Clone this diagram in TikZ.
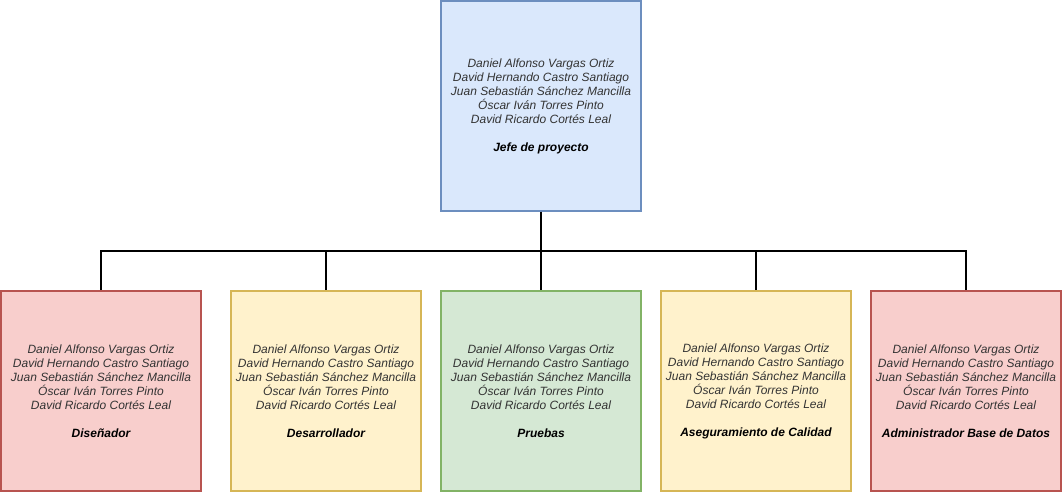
\documentclass[tikz,border=0pt]{standalone}
\usepackage{fontspec}
\setmainfont{Liberation Sans}
\usepackage{tikz}
\usetikzlibrary{positioning, calc}

\definecolor{azulF}{HTML}{DAE8FC}\definecolor{azulB}{HTML}{6C8EBF}
\definecolor{rojoF}{HTML}{F8CECC}\definecolor{rojoB}{HTML}{B85450}
\definecolor{amarF}{HTML}{FFF2CC}\definecolor{amarB}{HTML}{D6B656}
\definecolor{verdeF}{HTML}{D5E8D4}\definecolor{verdeB}{HTML}{82B366}
\definecolor{nombres}{HTML}{333333}

\newcommand{\integrantes}{Daniel Alfonso Vargas Ortiz\\David Hernando Castro Santiago\\Juan Sebastián Sánchez Mancilla\\Óscar Iván Torres Pinto\\David Ricardo Cortés Leal\\[14pt]}

\begin{document}
\begin{tikzpicture}[
        x=1pt, y=-1pt,
        font=\fontsize{12}{14}\selectfont\itshape,
        cargo/.style={draw, line width=1.3pt, minimum height=200pt, align=center, inner sep=0pt, text=nombres},
        rojo/.style={cargo, fill=rojoF, draw=rojoB, minimum width=200pt},
        amarillo/.style={cargo, fill=amarF, draw=amarB, minimum width=190pt},
        linea/.style={line width=1.5pt}
    ]
        \useasboundingbox (0,0) rectangle (1062,492);
        \node[cargo, fill=azulF, draw=azulB, minimum width=200pt, minimum height=210pt] (jefe) at (541,106) {\integrantes\textcolor{black}{\textbf{Jefe de proyecto}}};
        \node[rojo] (disenador) at (101,391) {\integrantes\textcolor{black}{\textbf{Diseñador}}};
        \node[amarillo] (desarrollador) at (326,391) {\integrantes\textcolor{black}{\textbf{Desarrollador}}};
        \node[cargo, fill=verdeF, draw=verdeB, minimum width=200pt] (pruebas) at (541,391) {\integrantes\textcolor{black}{\textbf{Pruebas}}};
        \node[amarillo] (calidad) at (756,391) {\integrantes\textcolor{black}{\textbf{Aseguramiento de Calidad}}};
        \node[rojo, minimum width=190pt] (admin) at (966,391) {\integrantes\textcolor{black}{\textbf{Administrador Base de Datos}}};

        \coordinate (bus) at (541,251);
        \draw[linea] (jefe) -- (pruebas);
        \draw[linea] (bus) -| (disenador);
        \draw[linea] (bus) -| (desarrollador);
        \draw[linea] (bus) -| (calidad);
        \draw[linea] (bus) -| (admin);
    \end{tikzpicture}
\end{document}
